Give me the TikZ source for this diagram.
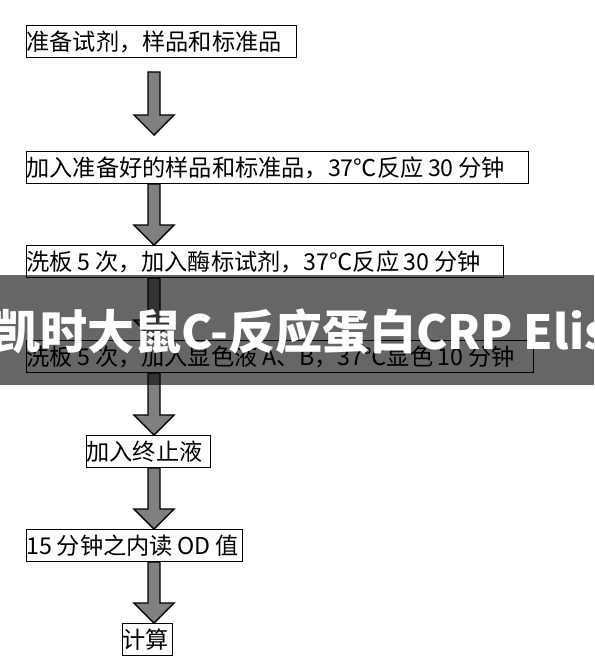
\documentclass[tikz,border=0pt]{standalone}
\usepackage{fontspec}
\usetikzlibrary{calc}
\newfontfamily\cjk{Noto Sans CJK SC}

\tikzset{
  stepbox/.style={draw, line width=0.7pt, fill=white, anchor=north west,
    inner xsep=0pt, inner ysep=0pt, minimum height=0.8cm, text width=#1,
    align=left, font=\cjk\fontsize{16.5}{20}\selectfont,
    execute at begin node={\spaceskip=0.2em\relax}},
  bigarrow/.style={draw=black, line width=1pt, fill=gray, line join=miter}
}
\newcommand{\flowarrow}[2]{%
  \draw[bigarrow] ($(#1)+(-6,0)$) -- ($(#2)+(-6,-20)$) -- ($(#2)+(-20,-20)$)
    -- (#2) -- ($(#2)+(20,-20)$) -- ($(#2)+(6,-20)$) -- ($(#1)+(6,0)$) -- cycle;}

\begin{document}
\begin{tikzpicture}[x=0.025cm, y=-0.025cm]
\useasboundingbox (0,0) rectangle (594,660);
\clip (0,0) rectangle (594,660);
\coordinate (axis) at (154,0);
\node[stepbox=6.75cm] (b1) at (26,25) {准备试剂，样品和标准品};
\node[stepbox=12.55cm] (b2) at (26,151) {加入准备好的样品和标准品，37℃反应~30~分钟};
\node[stepbox=11.925cm] (b3) at (26,245) {洗板~5~次，加入酶标试剂，37℃反应~30~分钟};
\node[stepbox=12.675cm] (b4) at (26,340) {洗板~5~次，加入显色液~A、B，37℃显色~10~分钟};
\node[stepbox=3.1cm] (b5) at (86,435) {加入终止液};
\node[stepbox=5.4cm] (b6) at (26,529) {15~分钟之内读~OD~值};
\node[stepbox=1.25cm] (b7) at (122,623) {计算};
% arrows between the steps
\coordinate (s1) at ($(b1.south -| axis)+(0,14)$);
\coordinate (e1) at ($(b2.north -| axis)+(0,-16)$);
\flowarrow{s1}{e1}
\flowarrow{b2.south -| axis}{b3.north -| axis}
\flowarrow{b3.south -| axis}{b4.north -| axis}
\flowarrow{b4.south -| axis}{b5.north -| axis}
\flowarrow{b5.south -| axis}{b6.north -| axis}
\flowarrow{b6.south -| axis}{b7.north -| axis}
% banner on top
\fill[black, fill opacity=0.6] (0,275) rectangle (594,385);
\node[anchor=base west, inner sep=0pt, text=white, font=\cjk\bfseries\fontsize{33.4}{36}\selectfont] (banner) at (-7,349) {凯时大鼠C-反应蛋白CRP Elis};
\end{tikzpicture}
\end{document}
